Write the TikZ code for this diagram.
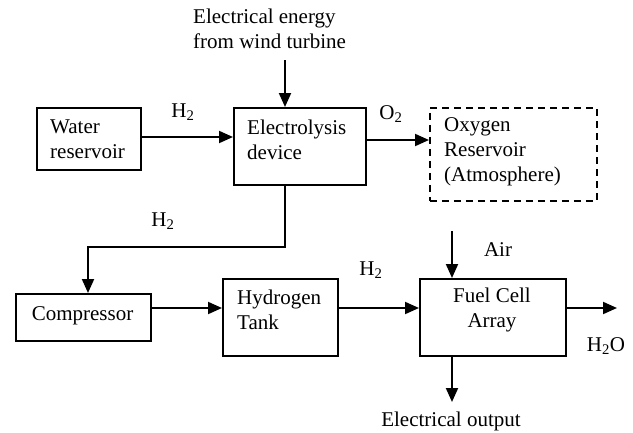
\documentclass[tikz,border=0pt]{standalone}
\usepackage{fontspec}
\setmainfont{Liberation Serif}
\usetikzlibrary{arrows.meta}
\begin{document}
\begin{tikzpicture}[x=1pt,y=-1pt,
  every node/.style={font=\fontsize{21}{25}\selectfont, inner sep=0pt},
  blk/.style={draw, line width=1.5pt, anchor=north west},
  dblk/.style={blk, dash pattern=on 7pt off 5pt},
  lbl/.style={align=left, anchor=west},
  flow/.style={line width=2pt, -{Triangle[length=14pt,width=12pt]}}
]
\useasboundingbox (0,0) rectangle (633,432);
% boxes
\node[blk, minimum width=104pt, minimum height=62pt] (wr) at (36,107) {};
\node[blk, minimum width=132pt, minimum height=77pt] (el) at (233,107) {};
\node[dblk, minimum width=167pt, minimum height=93pt] (ox) at (429,107) {};
\node[blk, minimum width=135pt, minimum height=47pt] (co) at (15,293) {};
\node[blk, minimum width=115pt, minimum height=77pt] (ht) at (222,278) {};
\node[blk, minimum width=146pt, minimum height=77pt] (fc) at (419,278) {};
% texts in boxes
\node[lbl] (twr) at (50,139.5) {Water\\reservoir};
\node[lbl] (tel) at (247,139.5) {Electrolysis\\device};
\node[lbl] (tox) at (444,152) {Oxygen\\Reservoir\\(Atmosphere)};
\node (tco) at (82.5,316) {Compressor};
\node[lbl] (tht) at (237,310) {Hydrogen\\Tank};
\node[align=center] (tfc) at (492,310) {Fuel Cell\\Array};
% free labels
\node[lbl] (twind) at (193,29) {Electrical energy\\from wind turbine};
\node (h2a) at (183,112) {H\textsubscript{2}};
\node (o2) at (391,114) {O\textsubscript{2}};
\node (h2b) at (163,221) {H\textsubscript{2}};
\node (h2c) at (371,270) {H\textsubscript{2}};
\node (air) at (498,250) {Air};
\node (h2o) at (606,346) {H\textsubscript{2}O};
\node (eout) at (451,421) {Electrical output};
% coordinates
\coordinate (topin) at (285,60);
\coordinate (rowa) at (0,137);
\coordinate (rowo) at (0,140);
\coordinate (bend) at (88,247);
\coordinate (row) at (0,308);
\coordinate (airin) at (452,231);
\coordinate (h2oend) at (617,308);
\coordinate (eend) at (452,402);
% connectors
\draw[flow] (wr.east |- rowa) -- (el.west |- rowa);
\draw[flow] (topin) -- (topin |- el.north);
\draw[flow] (el.east |- rowo) -- (ox.west |- rowo);
\draw[flow] (topin |- el.south) |- (bend) -- (bend |- co.north);
\draw[flow] (co.east |- row) -- (ht.west |- row);
\draw[flow] (ht.east |- row) -- (fc.west |- row);
\draw[flow] (airin) -- (airin |- fc.north);
\draw[flow] (fc.east |- row) -- (h2oend);
\draw[flow] (airin |- fc.south) -- (eend);
\end{tikzpicture}
\end{document}
